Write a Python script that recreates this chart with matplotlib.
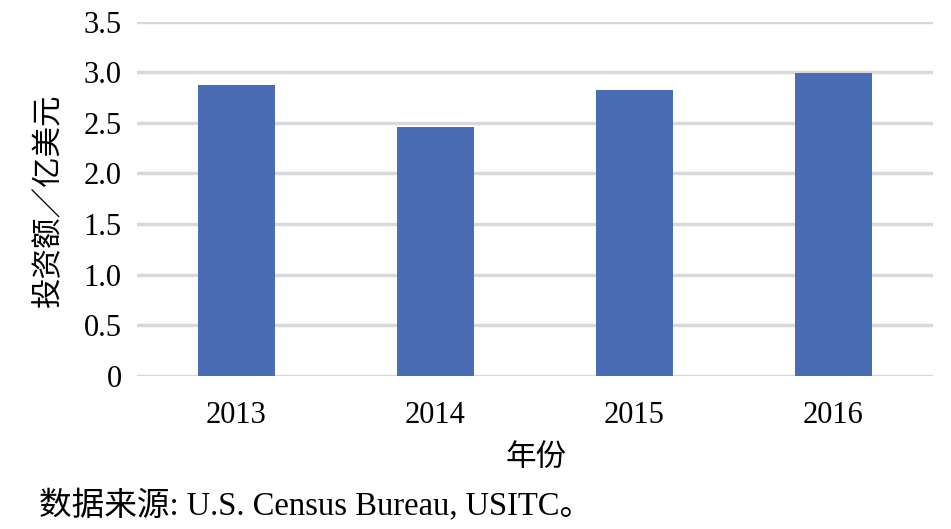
import matplotlib
matplotlib.use("Agg")
import matplotlib.pyplot as plt
import numpy as np

years = ["2013", "2014", "2015", "2016"]
invest = [2.87, 2.46, 2.82, 2.99]  # 亿美元
yticks = [0, 0.5, 1.0, 1.5, 2.0, 2.5, 3.0, 3.5]
ytick_labels = ["0", "0.5", "1.0", "1.5", "2.0", "2.5", "3.0", "3.5"]

ylabel = "投资额／亿美元"
xlabel = "年份"
source = "数据来源: U.S. Census Bureau, USITC。"

fonts = ["Liberation Serif", "Noto Sans CJK SC", "DejaVu Sans"]
plt.rcParams["font.family"] = fonts

W, H = 951, 529
fig = plt.figure(figsize=(W / 100, H / 100), dpi=100, facecolor="white")
ax = fig.add_axes([137 / W, (H - 376) / H, (933 - 137) / W, (376 - 21.5) / H])

x = np.arange(len(years))
ax.bar(x, invest, width=0.39, color="#4a6cb4", zorder=3)

ax.set_xlim(-0.5, len(years) - 0.5)
ax.set_ylim(0, 3.5)
ax.set_yticks(yticks)
ax.set_yticklabels(ytick_labels)
ax.set_xticks(x)
ax.set_xticklabels(years)
ax.tick_params(axis="both", length=0, labelsize=22, colors="black")
ax.tick_params(axis="y", pad=11)
ax.tick_params(axis="x", pad=18)

ax.yaxis.grid(True, color="#d9d9d9", linewidth=2.5, zorder=0)
ax.set_axisbelow(True)
for s in ax.spines.values():
    s.set_visible(False)

fig.text(49 / W, 1 - 200 / H, ylabel, rotation=90, ha="center", va="center",
         fontsize=22, family=["Noto Sans CJK SC", "DejaVu Sans"])
fig.text(536 / W, 1 - 457 / H, xlabel, ha="center", va="center",
         fontsize=22, family=["Noto Sans CJK SC", "DejaVu Sans"])
fig.text(39 / W, 1 - 515 / H, source, ha="left", va="baseline", fontsize=23.5)

fig.savefig("out.png", dpi=100, facecolor="white")
